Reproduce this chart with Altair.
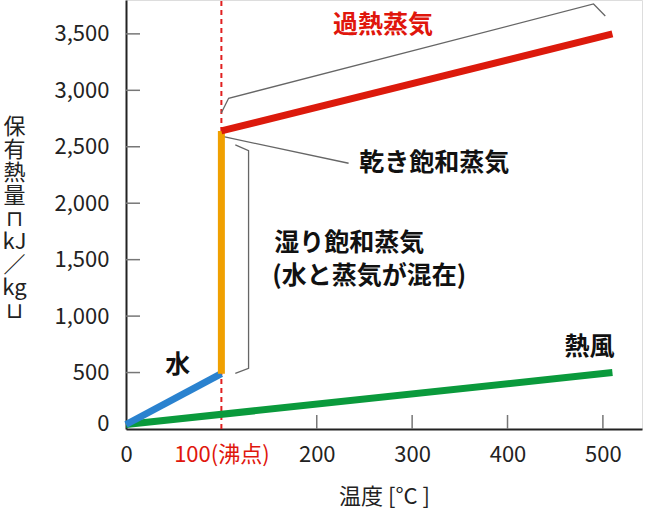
import altair as alt
import pandas as pd

FONT = "Noto Sans CJK JP"

# ---- main series (temperature °C, enthalpy kJ/kg) ----
series_names = ["熱風", "水", "湿り飽和蒸気", "過熱蒸気"]
series_colors = ["#0a9a3c", "#2a82cf", "#f0a000", "#dc1a0c"]
hot_air_x = [0, 510]
hot_air_y = [40, 500]
water_x = [0, 100]
water_y = [40, 490]
wet_x = [100, 100]
wet_y = [490, 2640]
superheat_x = [100, 510]
superheat_y = [2640, 3500]

# ---- annotation brackets (data coordinates) ----
br_super_x = [99.9, 107.6, 490.2, 502.5]
br_super_y = [2799, 2929, 3765, 3658]
br_dry_x = [102.3, 233.4]
br_dry_y = [2589, 2354]
br_wet_x = [114.6, 128.5, 128.5, 114.6]
br_wet_y = [2516, 2465, 538, 493]

# ---- annotation labels ----
label_text = ["過熱蒸気", "乾き飽和蒸気", "湿り飽和蒸気", "(水と蒸気が混在)", "水", "熱風"]
label_x = [217, 244.6, 155.5, 153.4, 41.2, 459.8]
label_y = [3579, 2356, 1645, 1355, 567, 729]
label_color = ["#e0160c", "#111111", "#111111", "#111111", "#111111", "#111111"]

# ---- axes ----
x_ticks = [0, 100, 200, 300, 400, 500]
x_inner_ticks = [200, 300, 400, 500]
y_ticks = [0, 500, 1000, 1500, 2000, 2500, 3000, 3500]
y_inner_ticks = [500, 1000, 1500, 2000, 2500, 3000, 3500]
boiling_point = [100]
y_title = ["保", "有", "熱", "量", "⊓", "kJ", "／", "kg", "⊔"]

W, H = 516, 429

rows = []
for name, xs, ys in zip(series_names, [hot_air_x, water_x, wet_x, superheat_x],
                        [hot_air_y, water_y, wet_y, superheat_y]):
    for i, (a, b) in enumerate(zip(xs, ys)):
        rows.append({"series": name, "t": a, "h": b, "o": i})
lines_df = pd.DataFrame(rows)

brows = []
for name, xs, ys in zip(["super", "dry", "wet"], [br_super_x, br_dry_x, br_wet_x],
                        [br_super_y, br_dry_y, br_wet_y]):
    for i, (a, b) in enumerate(zip(xs, ys)):
        brows.append({"g": name, "t": a, "h": b, "o": i})
br_df = pd.DataFrame(brows)

labels_df = pd.DataFrame({"text": label_text, "t": label_x, "h": label_y, "c": label_color})

xscale = alt.Scale(domain=[0, 541], nice=False, zero=False)
yscale = alt.Scale(domain=[0, 3800], nice=False)

x_axis = alt.Axis(
    values=x_ticks, grid=False, ticks=False, tickSize=0, labelPadding=15,
    labelFontSize=22, labelFont=FONT, labelFlush=False,
    labelExpr="datum.value == 100 ? '100(沸点)' : datum.label",
    labelColor={"condition": {"test": "datum.value == 100", "value": "#e0160c"}, "value": "#222222"},
    domainColor="#222222", domainWidth=2,
    title="温度 [°C ]", titleFont=FONT, titleFontSize=22, titleFontWeight="normal",
    titleColor="#222222", titleY=67, titleBaseline="middle",
)
y_axis = alt.Axis(
    values=y_ticks, grid=False, ticks=False, tickSize=0, labelPadding=17,
    labelFontSize=22, labelFont=FONT, labelColor="#222222", format=",d",
    labelFlush=True, labelFlushOffset=6,
    domainColor="#222222", domainWidth=2,
    title=y_title, titleAngle=0, titleX=-112, titleY=116, titleAlign="center",
    titleBaseline="top", titleFont=FONT, titleFontSize=22, titleFontWeight="normal",
    titleLineHeight=23, titleColor="#222222",
)

base_lines = alt.Chart(lines_df).mark_line(strokeWidth=7, strokeCap="butt").encode(
    x=alt.X("t:Q", scale=xscale, axis=x_axis),
    y=alt.Y("h:Q", scale=yscale, axis=y_axis),
    color=alt.Color("series:N", scale=alt.Scale(domain=series_names, range=series_colors), legend=None),
    order="o:Q",
)

dash = alt.Chart(pd.DataFrame({"t": boiling_point})).mark_rule(
    color="#e02020", strokeDash=[5, 4], strokeWidth=2
).encode(x=alt.X("t:Q", scale=xscale), y=alt.datum(0), y2=alt.datum(3800))

xt = alt.Chart(pd.DataFrame({"t": x_inner_ticks})).mark_rule(color="#777777", strokeWidth=1.5).encode(
    x=alt.X("t:Q", scale=xscale), y=alt.value(H), y2=alt.value(H - 14))
yt = alt.Chart(pd.DataFrame({"h": y_inner_ticks})).mark_rule(color="#777777", strokeWidth=1.5).encode(
    y=alt.Y("h:Q", scale=yscale), x=alt.value(0), x2=alt.value(14))

brackets = alt.Chart(br_df).mark_line(color="#666666", strokeWidth=1.3).encode(
    x=alt.X("t:Q", scale=xscale), y=alt.Y("h:Q", scale=yscale), detail="g:N", order="o:Q")

texts = alt.Chart(labels_df).mark_text(
    font=FONT, fontSize=25, fontWeight="bold", align="left", baseline="middle"
).encode(
    x=alt.X("t:Q", scale=xscale), y=alt.Y("h:Q", scale=yscale), text="text:N",
    color=alt.Color("c:N", scale=None),
)

chart = alt.layer(xt, yt, dash, brackets, base_lines, texts).properties(
    width=W, height=H,
    autosize=alt.AutoSizeParams(type="none"),
    padding={"left": 126, "top": 0, "right": 8, "bottom": 80},
).configure_view(stroke=None).configure(background="white")

chart.save("out.html", embed_options={"renderer": "svg", "actions": False})
